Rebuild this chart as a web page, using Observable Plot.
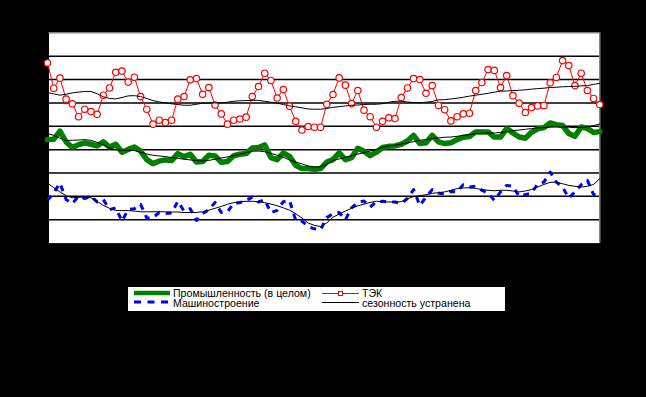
<!DOCTYPE html>
<html>
<head>
<meta charset="utf-8">
<script src="https://cdn.jsdelivr.net/npm/d3@7"></script>
<script src="https://cdn.jsdelivr.net/npm/@observablehq/plot@0.6"></script>
<style>
  html, body { margin: 0; padding: 0; background: #000; }
  #wrap { position: relative; width: 646px; height: 397px; overflow: hidden; background: #000; }
  #legend { position: absolute; left: 128px; top: 287px; width: 377px; height: 24px; background: #fff; overflow: hidden;
    font-family: "Liberation Sans", Arial, sans-serif; font-size: 10.6px; color: #000; }
  #legend .item { position: absolute; white-space: nowrap; line-height: 10px; height: 10px; }
  #legend svg { position: absolute; }
</style>
</head>
<body>
<div id="wrap">
  <div id="chart"></div>
  <div id="legend">
    <svg style="left:5px;top:2px" width="38" height="8"><line x1="1" y1="4" x2="37" y2="4" stroke="#008000" stroke-width="4.5"/></svg>
    <div class="item" style="left:45px;top:0.5px">Промышленность (в целом)</div>
    <svg style="left:5px;top:12px" width="38" height="6"><line x1="1" y1="3" x2="37" y2="3" stroke="#0000ff" stroke-width="3" stroke-dasharray="7,6.5"/></svg>
    <div class="item" style="left:45px;top:11px">Машиностроение</div>
    <svg style="left:193px;top:2px" width="40" height="9"><line x1="1" y1="4.5" x2="38" y2="4.5" stroke="#ff0000" stroke-width="1"/><rect x="17.5" y="2.5" width="4" height="4" fill="#fff" stroke="#ff0000" stroke-width="1"/></svg>
    <div class="item" style="left:234px;top:0.5px">ТЭК</div>
    <svg style="left:193px;top:12px" width="40" height="6"><line x1="1" y1="3.5" x2="38" y2="3.5" stroke="#000" stroke-width="1"/></svg>
    <div class="item" style="left:234px;top:11px">сезонность устранена</div>
  </div>
</div>
<script>
// Month index (1..90)
const months = d3.range(1, 91);

// ТЭК (fuel & energy complex), raw and seasonally adjusted
const tek = [77.1,66.3,70.6,61.6,59.6,54.1,57.3,56.3,55.1,63.3,
  66.4,73.1,73.6,68.9,71.0,62.7,57.3,50.9,52.6,51.6,
  52.6,61.6,62.7,69.9,70.4,63.7,66.6,59.1,55.3,50.9,
  52.6,53.1,53.9,62.7,67.0,72.7,69.6,62.1,65.7,58.6,
  52.1,48.4,49.9,49.6,49.6,59.4,63.6,70.7,67.6,59.7,
  65.3,56.9,54.1,49.6,52.1,53.6,53.3,62.3,66.4,70.4,
  70.0,64.1,67.4,58.9,57.1,52.3,54.1,55.3,55.6,65.3,
  68.7,74.3,73.9,66.6,71.7,63.1,59.9,55.9,58.0,58.7,
  58.9,68.6,70.9,78.1,76.0,67.4,72.7,65.3,61.9,59.3];
const tekSA = [64.4,63.9,63.3,63.7,64.3,64.6,64.9,64.9,63.9,62.6,
  61.9,61.7,62.3,63.0,63.1,62.7,61.9,61.0,60.4,60.0,
  59.6,59.3,59.0,59.0,59.4,59.9,60.0,60.0,60.0,60.3,
  60.7,60.9,61.0,61.1,61.1,60.7,60.3,59.9,59.3,58.7,
  58.3,57.9,57.4,57.3,57.3,57.6,58.1,58.4,58.7,59.0,
  59.1,59.3,59.4,59.4,59.7,60.3,60.7,60.7,60.4,60.1,
  60.1,60.3,60.6,61.3,61.4,61.7,62.0,62.4,62.9,63.3,
  63.7,64.1,64.6,65.0,65.1,65.3,65.4,65.6,65.9,66.1,
  66.3,66.6,66.7,66.9,67.0,67.1,67.3,67.4,67.9,68.4];

// Промышленность (в целом)
const industry = [44.3,44.4,47.9,43.3,40.9,42.1,42.9,42.3,41.6,43.3,
  41.1,42.3,38.9,40.1,41.1,39.4,35.7,34.0,35.1,35.6,
  35.3,38.3,37.0,38.0,34.7,34.9,37.6,37.3,34.6,34.9,
  37.4,38.0,38.3,40.7,40.9,42.0,36.6,35.7,38.6,37.1,
  33.3,31.9,31.9,31.6,31.9,34.7,35.7,38.6,35.7,36.6,
  40.6,39.3,37.4,38.9,40.9,41.4,41.6,42.3,43.7,46.1,
  42.6,42.9,46.1,43.3,42.6,42.9,44.3,45.3,45.6,47.6,
  47.6,47.6,45.4,45.4,49.0,47.1,45.4,44.9,47.4,48.9,
  49.4,51.4,50.7,50.3,46.9,45.7,49.7,49.1,47.3,47.7];
const industrySA = [46.9,46.1,44.9,43.9,44.0,44.1,44.3,44.0,43.1,42.0,
  40.7,40.0,39.7,39.7,39.6,38.9,38.1,37.6,37.3,37.0,
  36.6,36.3,35.9,35.6,35.3,35.1,35.4,35.9,36.4,36.9,
  37.4,38.0,38.7,39.3,39.4,39.1,38.4,37.6,36.7,35.6,
  34.7,33.9,33.0,32.6,32.6,33.7,35.4,36.0,36.7,37.4,
  38.1,38.7,39.4,40.1,41.0,41.6,41.9,42.4,42.9,43.4,
  44.0,44.3,44.7,45.0,45.3,45.4,45.7,46.1,46.4,46.9,
  47.0,47.1,47.1,47.4,47.7,48.1,48.4,48.7,49.0,49.3,
  49.4,49.6,49.7,49.7,49.6,49.4,49.6,49.7,50.3,51.0];

// Машиностроение
const machinery = [18.3,21.4,25.7,18.7,16.9,20.0,19.1,20.0,17.6,18.6,
  14.3,15.1,9.4,14.4,14.7,16.6,10.7,10.9,13.1,12.6,
  12.9,17.9,13.7,14.7,9.7,12.6,14.3,17.4,13.1,13.4,
  17.1,17.3,18.3,19.7,17.6,18.6,13.0,14.0,17.7,18.3,
  9.7,9.4,7.1,6.1,5.7,10.9,12.6,13.1,10.0,15.1,
  17.4,18.0,15.4,17.7,17.9,17.6,17.6,16.9,19.1,22.9,
  16.1,19.7,22.9,21.4,20.9,22.1,21.9,25.0,24.0,24.4,
  22.6,21.4,18.3,21.9,24.7,24.3,20.0,20.7,21.4,25.4,
  26.1,30.4,26.1,24.0,19.3,21.9,25.0,26.9,20.7,20.7];
const machinerySA = [25.7,23.7,21.9,20.3,19.4,19.6,19.7,19.4,17.9,16.1,
  14.9,14.0,13.9,13.9,13.7,13.4,13.4,13.4,13.4,13.4,
  13.3,13.3,13.1,13.1,13.1,13.4,14.1,14.9,15.7,16.6,
  17.3,17.7,17.9,17.9,17.7,17.3,16.7,16.0,15.1,14.1,
  12.6,10.7,8.6,7.6,7.1,8.6,11.1,12.4,13.7,14.9,
  15.9,16.7,17.4,17.9,17.7,17.6,17.6,17.7,19.0,19.9,
  20.3,20.7,21.3,21.6,21.9,22.6,23.3,23.6,23.7,23.4,
  22.9,22.6,22.4,22.6,22.6,22.3,21.9,22.3,22.9,24.0,
  25.1,26.0,26.1,25.4,24.7,24.3,24.0,24.3,25.1,27.6];

const gridLines = [10, 20, 30, 40, 50, 60, 70, 80];

const rows = months.map((m, i) => ({
  m, tek: tek[i], tekSA: tekSA[i], ind: industry[i], indSA: industrySA[i],
  mach: machinery[i], machSA: machinerySA[i]
}));

const chart = Plot.plot({
  width: 646,
  height: 397,
  marginLeft: 47,
  marginRight: 46.7,
  marginTop: 32.3,
  marginBottom: 154.4,
  style: { background: "#000", overflow: "visible" },
  x: { domain: [1, 90], axis: null },
  y: { domain: [0, 90], axis: null },
  marks: [
    Plot.frame({ fill: "#fff", stroke: "none", insetLeft: 1.5 }),
    Plot.ruleY(gridLines, { stroke: "#000", strokeWidth: 1.5 }),
    Plot.ruleY([90], { stroke: "#808080", strokeWidth: 1.5, insetLeft: 1.5 }),
    Plot.ruleX([90], { stroke: "#808080", strokeWidth: 1.5 }),
    Plot.line(rows, { x: "m", y: "ind", stroke: "#008000", strokeWidth: 5.5 }),
    Plot.line(rows, { x: "m", y: "mach", stroke: "#0000ff", strokeWidth: 3, strokeDasharray: "6,6", strokeLinecap: "butt" }),
    Plot.line(rows, { x: "m", y: "tek", stroke: "#ff0000", strokeWidth: 1 }),
    Plot.dot(rows, { x: "m", y: "tek", r: 3.2, fill: "#fff", stroke: "#ff0000", strokeWidth: 1.2 }),
    Plot.line(rows, { x: "m", y: "tekSA", stroke: "#000", strokeWidth: 1 }),
    Plot.line(rows, { x: "m", y: "indSA", stroke: "#000", strokeWidth: 1 }),
    Plot.line(rows, { x: "m", y: "machSA", stroke: "#000", strokeWidth: 1 })
  ]
});
document.getElementById("chart").appendChild(chart);
</script>
</body>
</html>
